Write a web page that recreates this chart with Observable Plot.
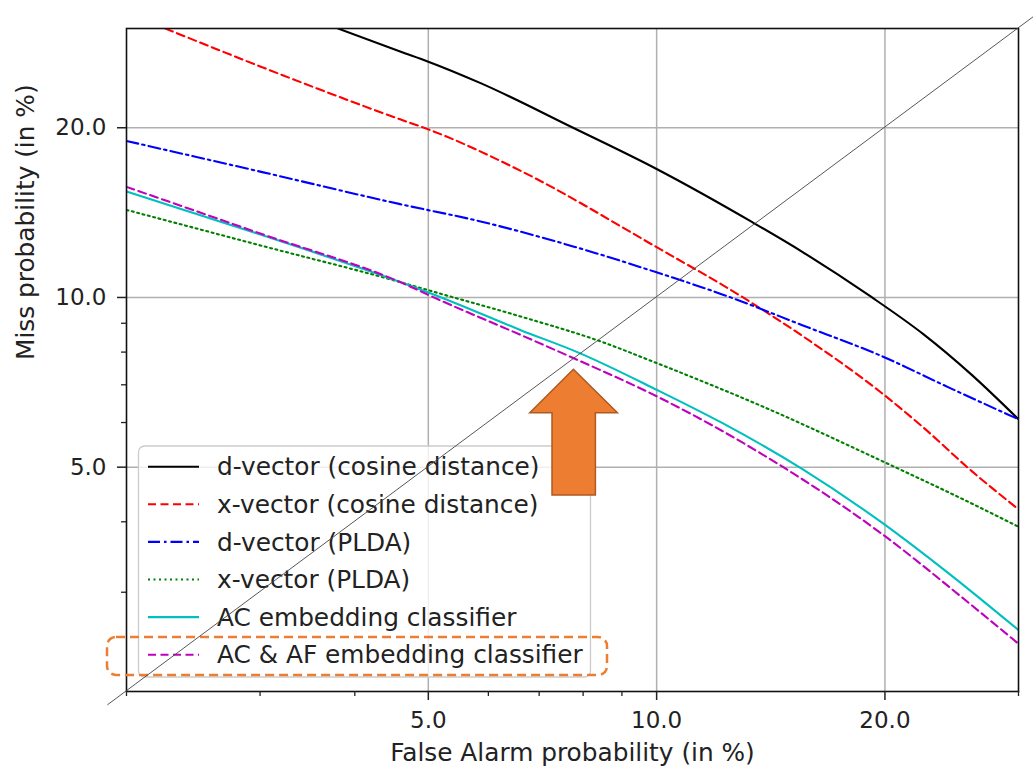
<!DOCTYPE html>
<html>
<head>
<meta charset="utf-8">
<script src="https://cdn.jsdelivr.net/npm/d3@7"></script>
<script src="https://cdn.jsdelivr.net/npm/@observablehq/plot@0.6"></script>
<style>
  html, body { margin: 0; padding: 0; background: white; }
  svg { display: block; }
</style>
</head>
<body>
<div id="chart"></div>
<script>
// ---- data (percent) ----
const majorTicks = [5, 10, 20];
const minorTicksX = [2, 3, 4, 6, 7, 8, 9, 30];
const minorTicksY = [3, 4, 6, 7, 8, 9];

const seriesNames = [
  "d-vector (cosine distance)",
  "x-vector (cosine distance)",
  "d-vector (PLDA)",
  "x-vector (PLDA)",
  "AC embedding classifier",
  "AC & AF embedding classifier"
];

const faDvecCos   = [3.80, 4.59, 5.0, 5.86, 7.76, 10.0, 13.37, 15.56, 19.17, 22.47, 26.03, 30];
const missDvecCos = [30.0, 27.3, 26.2, 24.0, 20.0, 16.9, 13.6, 12.05, 10.03, 8.61, 7.29, 6.08];

const faXvecCos   = [2.25, 3.22, 4.59, 5.0, 6.62, 10.0, 12.97, 15.56, 19.8, 22.47, 26.03, 30];
const missXvecCos = [30.0, 24.76, 20.7, 19.87, 16.77, 12.28, 10.02, 8.55, 6.77, 5.88, 4.92, 4.21];

const faDvecPlda   = [2, 3.03, 4.59, 5.86, 7.76, 10, 12.4, 15.56, 19.89, 24.3, 30];
const missDvecPlda = [18.95, 16.67, 14.64, 13.64, 12.32, 11.08, 10.05, 8.93, 7.85, 6.92, 6.08];

const faXvecPlda   = [2, 3.03, 4.59, 5.18, 6.62, 8.45, 10, 13.78, 19.8, 25.4, 30];
const missXvecPlda = [14.3, 12.33, 10.65, 10.16, 9.25, 8.35, 7.65, 6.41, 5.13, 4.38, 3.92];

const faAC   = [2, 3.03, 4.59, 5.18, 6.62, 7.86, 10, 12.2, 15.57, 19.8, 24.06, 30];
const missAC = [15.42, 12.88, 10.65, 10.02, 8.75, 8.0, 6.86, 5.99, 4.96, 3.99, 3.27, 2.57];

const faACAF   = [2, 3.03, 4.59, 5.18, 6.62, 7.76, 10, 13.78, 19.8, 25.57, 30];
const missACAF = [15.71, 12.93, 10.65, 9.89, 8.58, 7.81, 6.68, 5.27, 3.81, 2.90, 2.43];

const diagonal = [1.89, 32];

// ---- styles ----
const colors = ["#000000", "#ff0000", "#0000ff", "#008000", "#00bfbf", "#bf00bf"];
const dashes = [null, "8,4.5", "12,4,2.5,4", "2,3.5", null, "8,4.5"];

const seriesData = [
  d3.zip(faDvecCos, missDvecCos),
  d3.zip(faXvecCos, missXvecCos),
  d3.zip(faDvecPlda, missDvecPlda),
  d3.zip(faXvecPlda, missXvecPlda),
  d3.zip(faAC, missAC),
  d3.zip(faACAF, missACAF)
];

const W = 1033, H = 768;
const mL = 126, mR = 15, mT = 28, mB = 77;

const lineMarks = seriesData.map((d, i) => Plot.line(d, {
  x: p => p[0], y: p => p[1],
  stroke: colors[i], strokeWidth: 2.1,
  strokeDasharray: dashes[i] ?? undefined,
  curve: "monotone-x",
  clip: true
}));

const chart = Plot.plot({
  width: W, height: H,
  marginLeft: mL, marginRight: mR, marginTop: mT, marginBottom: mB,
  x: {type: "log", domain: [2, 30]},
  y: {type: "log", domain: [2, 30]},
  style: {fontFamily: "DejaVu Sans", fontSize: "23px", color: "#222", background: "white"},
  marks: [
    Plot.gridX(majorTicks, {stroke: "#b0b0b0", strokeOpacity: 1, strokeWidth: 1.5}),
    Plot.gridY(majorTicks, {stroke: "#b0b0b0", strokeOpacity: 1, strokeWidth: 1.5}),
    ...lineMarks,
    Plot.frame({stroke: "#111", strokeWidth: 1.6}),
    Plot.axisX(majorTicks, {tickFormat: d => d.toFixed(1), tickSize: 9, tickPadding: 11, strokeWidth: 1.5, label: null}),
    Plot.axisX(minorTicksX, {tickFormat: () => "", tickSize: 5, strokeWidth: 1.3, label: null}),
    Plot.axisY(majorTicks, {tickFormat: d => d.toFixed(1), tickSize: 9, tickPadding: 11, strokeWidth: 1.5, label: null}),
    Plot.axisY(minorTicksY, {tickFormat: () => "", tickSize: 5, strokeWidth: 1.3, label: null}),
    Plot.text(["False Alarm probability (in %)"], {text: d => d, frameAnchor: "bottom", dy: 69, fontSize: 24.8, fill: "#222"}),
    Plot.text(["Miss probability (in %)"], {text: d => d, frameAnchor: "left", dx: -100, rotate: -90, fontSize: 24.8, fill: "#222"})
  ]
});

document.getElementById("chart").appendChild(chart);

// ---- overlay: legend, annotations, diagonal ----
const svg = d3.select(chart);
const sx = chart.scale("x"), sy = chart.scale("y");

const lg = svg.append("g");
lg.append("rect")
  .attr("x", 138.5).attr("y", 446).attr("width", 452).attr("height", 231)
  .attr("rx", 6).attr("fill", "white").attr("fill-opacity", 0.8)
  .attr("stroke", "#cccccc").attr("stroke-width", 1.3);
seriesNames.forEach((name, i) => {
  const yy = 466.7 + i * 37.6;
  lg.append("line")
    .attr("x1", 148).attr("x2", 199).attr("y1", yy).attr("y2", yy)
    .attr("stroke", colors[i]).attr("stroke-width", 2.1)
    .attr("stroke-dasharray", dashes[i]);
  lg.append("text")
    .attr("x", 217).attr("y", yy).attr("dy", "0.35em")
    .attr("text-anchor", "start")
    .attr("font-family", "DejaVu Sans").attr("font-size", 24.8)
    .attr("fill", "#222").text(name);
});

// orange dashed highlight box around last legend entry
svg.append("rect")
  .attr("x", 107).attr("y", 637).attr("width", 500).attr("height", 38)
  .attr("rx", 9).attr("fill", "none")
  .attr("stroke", "#ED7D31").attr("stroke-width", 2.5)
  .attr("stroke-dasharray", "9,5");

// orange up arrow
const tipX = 573.4, tipY = 369.3;
const arrowPts = [
  [tipX, tipY],
  [tipX + 44, tipY + 43.4],
  [tipX + 22, tipY + 43.4],
  [tipX + 22, tipY + 125.7],
  [tipX - 21.4, tipY + 125.7],
  [tipX - 21.4, tipY + 43.4],
  [tipX - 43.6, tipY + 43.4]
];
svg.append("polygon")
  .attr("points", arrowPts.map(p => p.join(",")).join(" "))
  .attr("fill", "#ED7D31").attr("stroke", "#AE5A21").attr("stroke-width", 1.5);

// diagonal x = y line
svg.append("line")
  .attr("x1", sx.apply(diagonal[0])).attr("y1", sy.apply(diagonal[0]))
  .attr("x2", sx.apply(diagonal[1])).attr("y2", sy.apply(diagonal[1]))
  .attr("stroke", "#444").attr("stroke-width", 0.9);
</script>
</body>
</html>
